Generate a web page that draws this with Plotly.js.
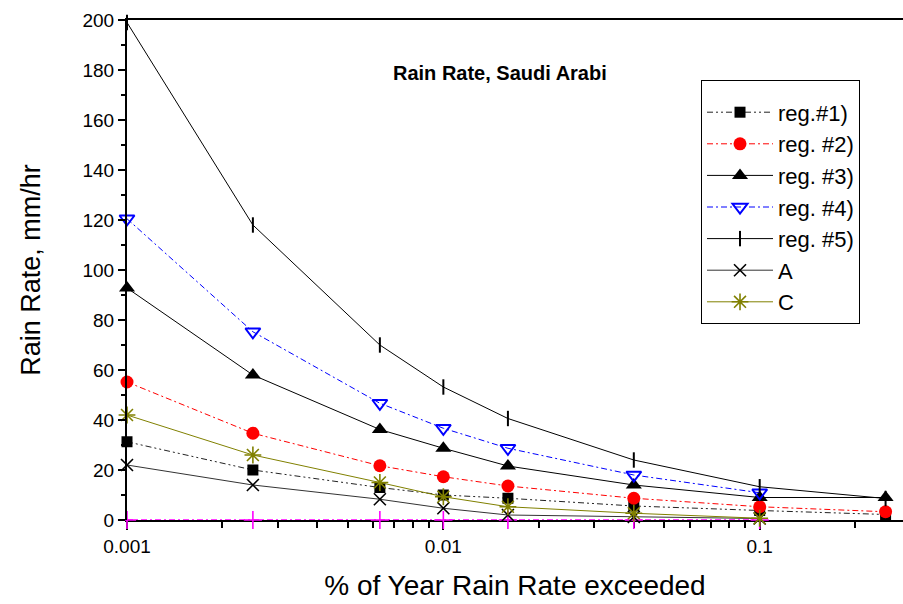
<!DOCTYPE html>
<html>
<head>
<meta charset="utf-8">
<script src="https://cdn.plot.ly/plotly-3.0.1.min.js"></script>
<style>html,body{margin:0;padding:0;background:#fff;}#chart{width:903px;height:604px;}</style>
</head>
<body>
<div id="chart"></div>
<script>
// % of year exceeded
var pctX = [0.001, 0.0025, 0.0063, 0.01, 0.016, 0.04, 0.1, 0.25];
var pctX7 = [0.001, 0.0025, 0.0063, 0.01, 0.016, 0.04, 0.1];

var seriesNames = ["reg.#1)", "reg. #2)", "reg. #3)", "reg. #4)", "reg. #5)", "A", "C"];
var reg1 = [31.3, 20, 13, 10, 8.7, 5.6, 3.8, 2.2];
var reg2 = [55.2, 34.7, 21.7, 17.3, 13.6, 8.7, 5.3, 3.3];
var reg3 = [92.8, 58, 36.2, 28.7, 21.6, 14, 9, 9];
var reg4 = [120.5, 75.3, 46.7, 36.7, 28.7, 18, 10.9];
var reg5 = [199, 118, 70, 53.2, 40.6, 24, 13.3, 8.6];
var seriesA = [22, 14, 8.3, 4.7, 2, 1.2, 0.6];
var seriesC = [42, 26, 15, 9.3, 5.3, 2.7, 0.7];
var zeroSeries = [0, 0, 0, 0, 0, 0, 0];

var majorTicks = [0.001, 0.01, 0.1];
var majorTickText = ["0.001", "0.01", "0.1"];
var minorTicks = [0.002,0.003,0.004,0.005,0.006,0.007,0.008,0.009,0.02,0.03,0.04,0.05,0.06,0.07,0.08,0.09,0.2];

var FONT = "Liberation Sans, Arial, sans-serif";

function tr(name, x, y, color, dash, symbol, msize, mcolor, mline, group) {
  return {
    type: "scatter", mode: "lines+markers", name: name, x: x, y: y,
    legendgroup: group, cliponaxis: false,
    line: {color: color, width: 1, dash: dash},
    marker: {symbol: symbol, size: msize, color: mcolor, line: mline}
  };
}

var traces = [
  {
    type: "scatter", mode: "lines+markers", x: pctX7, y: zeroSeries, showlegend: false, cliponaxis: false,
    line: {color: "#ff00ff", width: 1.5, dash: "6px,3px,2px,3px"},
    marker: {symbol: "cross-thin-open", size: 13, color: "#ff00ff", line: {width: 1.6, color: "#ff00ff"}}
  },
  tr(seriesNames[0], pctX, reg1, "#222", "6px,3px,2px,3px,2px,3px", "square", 11, "#000", {width: 0}, "g1"),
  tr(seriesNames[1], pctX, reg2, "#ff0000", "6px,3px,2px,3px", "circle", 13, "#ff0000", {width: 0}, "g2"),
  tr(seriesNames[2], pctX, reg3, "#000", "solid", "triangle-up", 14, "#000", {width: 0}, "g3"),
  tr(seriesNames[3], pctX7, reg4, "#0000ff", "6px,3px,2px,3px", "triangle-down-open", 13, "#0000ff", {width: 2, color: "#0000ff"}, "g4"),
  tr(seriesNames[4], pctX, reg5, "#000", "solid", "line-ns", 11, "#000", {width: 2, color: "#000"}, "g5"),
  tr(seriesNames[5], pctX7, seriesA, "#333", "solid", "x-thin-open", 12, "#000", {width: 1.6, color: "#000"}, "g6"),
  tr(seriesNames[6], pctX7, seriesC, "#808000", "solid", "asterisk-open", 14, "#808000", {width: 1.6, color: "#808000"}, "g7")
];

var layout = {
  width: 903, height: 604,
  margin: {l: 127, r: 0, t: 20, b: 84},
  paper_bgcolor: "#fff", plot_bgcolor: "#fff",
  font: {family: FONT, size: 19, color: "#000"},
  showlegend: true,
  legend: {
    x: 0.7397, y: 0.88, xanchor: "left", yanchor: "top",
    bordercolor: "#000", borderwidth: 1, bgcolor: "#fff",
    font: {family: FONT, size: 22, color: "#000"},
    title: {text: " ", font: {size: 8}},
    itemwidth: 66, tracegroupgap: 0, traceorder: "normal"
  },
  xaxis: {
    type: "log", range: [-3, -0.547], layer: "below traces",
    showgrid: false, zeroline: false,
    showline: true, linecolor: "#000", linewidth: 2, mirror: true,
    ticks: "outside", ticklen: 8, tickwidth: 2, tickcolor: "#000",
    tickmode: "array", tickvals: majorTicks, ticktext: majorTickText,
    tickfont: {family: FONT, size: 19, color: "#000"},
    minor: {ticks: "outside", ticklen: 6, tickwidth: 2, tickcolor: "#000", tickvals: minorTicks, showgrid: false},
    title: {text: "% of Year Rain Rate exceeded", font: {family: FONT, size: 28, color: "#000"}, standoff: 20}
  },
  yaxis: {
    range: [0, 200], dtick: 20, tick0: 0,
    showgrid: false, zeroline: false,
    showline: true, linecolor: "#000", linewidth: 2, mirror: false,
    ticks: "outside", ticklen: 7, tickwidth: 2, tickcolor: "#000",
    tickfont: {family: FONT, size: 19, color: "#000"},
    minor: {ticks: "outside", ticklen: 4, tickwidth: 2, tickcolor: "#000", dtick: 10, showgrid: false},
    title: {text: "Rain Rate, mm/hr", font: {family: FONT, size: 27, color: "#000"}, standoff: 34}
  },
  annotations: [{
    text: "<b>Rain Rate, Saudi Arabi</b>", xref: "paper", yref: "paper",
    x: 0.4807, y: 0.894, xanchor: "center", yanchor: "middle", showarrow: false,
    font: {family: FONT, size: 20, color: "#000"}
  }]
};

Plotly.newPlot("chart", traces, layout, {displayModeBar: false, staticPlot: true});
</script>
</body>
</html>
